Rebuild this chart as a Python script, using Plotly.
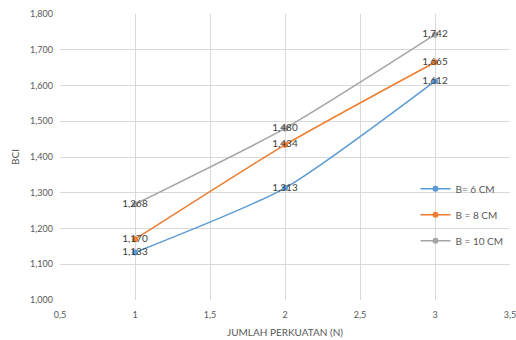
import plotly.graph_objects as go

# Number of reinforcement layers
jumlah_perkuatan = [1, 2, 3]

# BCI values per reinforcement width
bci_b6 = [1.133, 1.313, 1.612]
bci_b8 = [1.170, 1.434, 1.665]
bci_b10 = [1.268, 1.480, 1.742]

series_names = ["B= 6 CM", "B = 8 CM", "B = 10 CM"]
series_colors = ["#5B9BD5", "#ED7D31", "#A5A5A5"]

y_ticks = [1.0, 1.1, 1.2, 1.3, 1.4, 1.5, 1.6, 1.7, 1.8]
x_ticks = [0.5, 1, 1.5, 2, 2.5, 3, 3.5]


def fmt_comma(v, decimals):
    s = f"{v:.{decimals}f}"
    return s.replace(".", ",")


def fmt_x(v):
    return str(int(v)) if float(v).is_integer() else fmt_comma(v, 1)


FONT = "Lato, Liberation Sans, sans-serif"

fig = go.Figure()
for i, (name, color, values) in enumerate(zip(series_names, series_colors, [bci_b6, bci_b8, bci_b10])):
    fig.add_trace(go.Scatter(
        x=jumlah_perkuatan,
        y=values,
        name=name,
        legendgroup=f"g{i}",
        mode="lines+markers+text",
        line=dict(color=color, width=1.5, shape="spline", smoothing=0.6),
        marker=dict(color=color, size=6),
        text=[fmt_comma(v, 3) for v in values],
        textposition="middle center",
        textfont=dict(family=FONT, size=10, color="#404040"),
        hoverinfo="skip",
    ))

fig.update_layout(
    width=516,
    height=340,
    margin=dict(l=60, r=6, t=14, b=40),
    paper_bgcolor="white",
    plot_bgcolor="white",
    font=dict(family=FONT, size=9, color="#595959"),
    showlegend=True,
    legend=dict(
        x=0.79, y=0.44, xanchor="left", yanchor="top",
        bgcolor="rgba(0,0,0,0)",
        font=dict(family=FONT, size=10, color="#595959"),
        tracegroupgap=7,
        itemwidth=30,
    ),
    xaxis=dict(
        range=[0.5, 3.5],
        tickvals=x_ticks,
        ticktext=[fmt_x(v) for v in x_ticks],
        showgrid=True, gridcolor="#D9D9D9", gridwidth=1,
        zeroline=False, showline=False,
        ticks="",
        ticklabelstandoff=8,
        ticklabeloverflow="allow",
        automargin=False,
        title=dict(text="JUMLAH PERKUATAN (N)", font=dict(family=FONT, size=10, color="#595959"), standoff=9),
    ),
    yaxis=dict(
        range=[1.0, 1.8],
        tickvals=y_ticks,
        ticktext=[fmt_comma(v, 3) for v in y_ticks],
        showgrid=True, gridcolor="#D9D9D9", gridwidth=1,
        zeroline=False, showline=False,
        ticks="",
        ticklabelstandoff=6,
        automargin=False,
        title=dict(text="BCI", font=dict(family=FONT, size=10, color="#595959"), standoff=8),
    ),
)

fig.write_html("out.html")
